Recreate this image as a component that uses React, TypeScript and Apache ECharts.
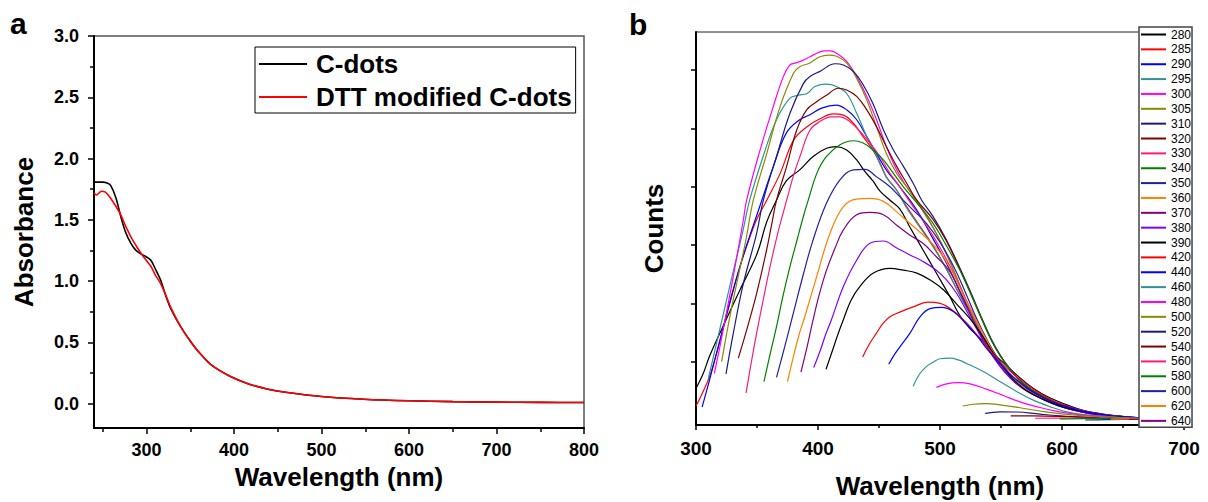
import React, { useEffect, useRef } from "react";
import * as echarts from "echarts";

const FONT = 'Arial, "Liberation Sans", Helvetica, sans-serif';

// ---- Panel a (UV-vis absorbance) ----
const uvXTicks = [300, 400, 500, 600, 700, 800];
const uvXMinorTicks = [250, 350, 450, 550, 650, 750];
const uvYTicks = [0, 0.5, 1, 1.5, 2, 2.5, 3];
const uvYMinorTicks = [0.25, 0.75, 1.25, 1.75, 2.25, 2.75];
const uvNames = ["C-dots", "DTT modified C-dots"];

const cDots = [
  [240, 1.807], [250, 1.807], [255, 1.8], [259, 1.78], [265, 1.68], [270.6, 1.527], [276, 1.4],
  [282, 1.31], [288, 1.25], [293.5, 1.222], [299, 1.2], [305, 1.17], [310, 1.1], [316, 1.01],
  [322, 0.88], [328, 0.77], [339, 0.628], [352, 0.49], [361, 0.41], [374, 0.315], [396, 0.22],
  [417.5, 0.158], [439, 0.117], [461, 0.09], [500, 0.057], [548, 0.035], [600, 0.022],
  [650, 0.015], [700, 0.011], [750, 0.009], [800, 0.008],
];
const dttCDots = [
  [240, 1.717], [243, 1.703], [248.5, 1.733], [253, 1.725], [259, 1.676], [265, 1.61], [270.6, 1.54],
  [276, 1.45], [282, 1.363], [288, 1.29], [293.5, 1.228], [299, 1.175], [305, 1.12], [310, 1.05],
  [316, 0.98], [322, 0.885], [328, 0.78], [339, 0.628], [352, 0.49], [361, 0.41], [374, 0.315],
  [396, 0.22], [417.5, 0.158], [439, 0.117], [461, 0.09], [500, 0.057], [548, 0.035], [600, 0.022],
  [650, 0.015], [700, 0.011], [750, 0.009], [800, 0.008],
];

// ---- Panel b (PL emission at different excitation wavelengths) ----
const plXTicks = [300, 400, 500, 600, 700];
const plYTicks = [1, 2, 3, 4, 5, 6];
const excitations = [
  "280", "285", "290", "295", "300", "305", "310", "320", "330", "340", "350", "360", "370", "380",
  "390", "420", "440", "460", "480", "500", "520", "540", "560", "580", "600", "620", "640",
];

const pl280 = [[300,0.54],[306,0.8],[311,1.09],[322,1.6],[336,2.23],[350,2.85],[358,3.4],[366,3.77],[374,4.1],[385,4.29],[396,4.52],[407,4.66],[415,4.69],[423.5,4.63],[431.7,4.46],[438.5,4.26],[445,4.1],[451,3.92],[459,3.77],[467,3.62],[475,3.32],[486,2.92],[497,2.52],[508,2.12],[516,1.8],[524,1.58],[532,1.42],[542,1.18],[552,0.98],[563,0.77],[576,0.55],[590,0.38],[604,0.26],[618,0.16],[631,0.11],[645,0.07],[658,0.045],[680,0.02],[700,0.01]];
const pl285 = [[300,0.24],[305,0.45],[311,0.74],[317,1.15],[322,1.55],[329,2.1],[336,2.63],[343,3.07],[350,3.45],[358,3.77],[369,4.23],[380,4.8],[391,5.03],[402,5.17],[412.6,5.25],[420.8,5.23],[429,5.09],[437,4.86],[445,4.63],[451,4.4],[456,4.17],[464.5,3.94],[472,3.68],[481,3.4],[494,3.0],[505,2.6],[516,2.15],[527,1.72],[537,1.33],[546,1.03],[555,0.8],[563,0.64],[576,0.46],[590,0.31],[604,0.2],[618,0.13],[631,0.085],[645,0.055],[658,0.038],[680,0.017],[700,0.008]];
const pl290 = [[305,0.22],[310,0.6],[315,1.0],[320,1.4],[330,2.2],[340,2.9],[348,3.4],[354,3.77],[363.4,4.35],[374,4.92],[385,5.15],[393,5.23],[403,5.35],[415,5.4],[423.5,5.32],[431.7,5.15],[440,4.86],[448,4.57],[456,4.29],[467,4.0],[481,3.6],[494,3.12],[505,2.7],[516,2.22],[527,1.77],[537,1.36],[546,1.05],[555,0.82],[563,0.66],[576,0.47],[590,0.32],[604,0.21],[618,0.14],[631,0.09],[645,0.058],[658,0.04],[680,0.018],[700,0.008]];
const pl295 = [[310,0.7],[315,1.15],[320,1.6],[330,2.5],[338,3.2],[344,3.77],[355,4.52],[366,5.15],[377,5.52],[384,5.57],[391,5.6],[397.5,5.72],[407,5.76],[415,5.72],[423.5,5.6],[431.7,5.26],[440,4.86],[448,4.52],[456,4.17],[464.5,3.94],[472,3.66],[481,3.38],[494,2.98],[505,2.6],[516,2.15],[527,1.72],[537,1.33],[546,1.03],[555,0.8],[563,0.64],[576,0.46],[590,0.31],[604,0.2],[618,0.13],[631,0.085],[645,0.055],[658,0.038],[680,0.017],[700,0.008]];
const pl300 = [[315,0.8],[320,1.3],[330,2.4],[338.8,3.43],[341.5,3.77],[352.5,4.63],[363.4,5.38],[371.6,5.89],[377,6.09],[381,6.12],[386.6,6.16],[393.4,6.23],[400,6.3],[405.7,6.33],[410,6.33],[415.3,6.29],[423.5,6.15],[431.7,5.89],[440,5.55],[448,5.15],[456,4.69],[464.5,4.29],[472.7,4.0],[484,3.65],[497,3.2],[508,2.72],[518,2.22],[527,1.78],[536,1.38],[545,1.07],[553,0.84],[562,0.65],[573,0.49],[588,0.33],[602,0.22],[616,0.145],[630,0.095],[645,0.062],[658,0.043],[680,0.02],[700,0.01]];
const pl305 = [[321,1.0],[328,1.8],[335,2.5],[341,3.1],[347,3.77],[358,4.57],[369,5.38],[380,5.95],[385,6.06],[393,6.12],[401.6,6.23],[408.5,6.26],[415.3,6.24],[423.5,6.12],[431.7,5.86],[440,5.49],[448,5.03],[456,4.57],[464.5,4.23],[472.7,4.0],[484,3.66],[497,3.2],[508,2.72],[518,2.22],[527,1.78],[536,1.38],[545,1.07],[553,0.84],[562,0.65],[573,0.49],[588,0.33],[602,0.22],[616,0.145],[630,0.095],[645,0.062],[658,0.043],[680,0.02],[700,0.01]];
const pl310 = [[324.6,0.79],[330.6,1.49],[338.8,2.34],[349.7,3.2],[355.2,3.77],[366,4.52],[377,5.26],[388,5.77],[393.4,5.89],[401.6,5.98],[414,6.11],[420.8,6.09],[429,5.98],[437,5.75],[445,5.43],[453.6,4.98],[461.8,4.63],[470,4.35],[478,4.06],[485,3.77],[494,3.5],[505,3.1],[516,2.62],[525,2.2],[534,1.76],[542,1.39],[550,1.09],[558,0.86],[566,0.67],[576,0.51],[590,0.35],[604,0.24],[618,0.155],[631,0.1],[645,0.066],[658,0.046],[680,0.02],[700,0.01]];
const pl320 = [[334.7,1.06],[341.5,1.54],[349.7,2.17],[357.9,2.92],[362,3.35],[366,3.77],[374.3,4.35],[382.5,4.97],[390.7,5.32],[398.9,5.46],[407,5.57],[416.7,5.69],[423.5,5.66],[431.7,5.55],[440,5.32],[448,5.03],[456,4.69],[464.5,4.35],[472.7,4.06],[481,3.77],[494,3.45],[505,3.08],[516,2.6],[525,2.18],[534,1.74],[542,1.37],[550,1.08],[558,0.85],[566,0.66],[576,0.5],[590,0.34],[604,0.23],[618,0.15],[631,0.1],[645,0.065],[658,0.045],[680,0.02],[700,0.01]];
const pl330 = [[341,0.46],[345,0.95],[349.7,1.49],[355,2.05],[360.7,2.63],[367,3.2],[374.3,3.77],[380,4.2],[385.2,4.52],[393.4,4.97],[401.6,5.12],[411,5.2],[418,5.2],[426,5.12],[434.4,4.95],[442.6,4.75],[450.8,4.52],[459,4.23],[467,4.0],[476,3.72],[490,3.3],[501,2.92],[512,2.48],[521,2.08],[530,1.7],[539,1.34],[547,1.05],[555,0.83],[564,0.64],[574,0.49],[588,0.33],[602,0.22],[616,0.145],[630,0.095],[645,0.062],[658,0.043],[680,0.02],[700,0.01]];
const pl340 = [[355.7,0.66],[361,1.15],[366,1.6],[371,2.1],[377,2.63],[383,3.1],[388,3.49],[392,3.77],[399,4.23],[407,4.52],[418,4.72],[429,4.79],[437,4.75],[445,4.63],[453.6,4.46],[461.8,4.23],[470,4.0],[480,3.75],[494,3.38],[505,3.0],[516,2.58],[525,2.17],[534,1.74],[542,1.38],[550,1.08],[558,0.85],[566,0.66],[576,0.5],[590,0.34],[604,0.23],[618,0.15],[631,0.1],[645,0.065],[658,0.045],[680,0.02],[700,0.01]];
const pl350 = [[366,0.73],[372,1.2],[380,1.85],[388,2.5],[396,3.09],[407,3.72],[418,4.12],[429,4.29],[438.5,4.3],[448,4.17],[459,4.0],[467,3.83],[478,3.6],[489,3.37],[500,3.05],[512,2.6],[521,2.18],[530,1.74],[539,1.36],[547,1.07],[555,0.84],[564,0.65],[574,0.49],[588,0.33],[602,0.22],[616,0.145],[630,0.095],[645,0.062],[658,0.043],[680,0.02],[700,0.01]];
const pl360 = [[375,0.66],[380,1.1],[385,1.5],[389.3,1.78],[398.9,2.46],[409.8,3.2],[420.8,3.66],[431.7,3.79],[442.6,3.8],[453.6,3.75],[464.5,3.57],[475.4,3.37],[489,3.12],[500,2.88],[511,2.5],[521,2.06],[530,1.7],[539,1.34],[547,1.05],[555,0.83],[564,0.64],[574,0.48],[588,0.33],[602,0.22],[616,0.145],[630,0.095],[645,0.062],[658,0.043],[680,0.02],[700,0.01]];
const pl370 = [[386,0.82],[391,1.25],[396,1.72],[401,2.15],[407,2.57],[414,2.95],[420.8,3.26],[431.7,3.52],[442.6,3.56],[453.6,3.52],[464.5,3.34],[475.4,3.17],[486,3.03],[497,2.8],[508,2.55],[518,2.12],[527,1.72],[536,1.35],[545,1.05],[553,0.83],[562,0.64],[573,0.48],[588,0.32],[602,0.21],[616,0.14],[630,0.09],[645,0.06],[658,0.042],[680,0.02],[700,0.01]];
const pl380 = [[396.5,0.9],[402,1.2],[406,1.45],[411,1.72],[420.8,2.29],[431.7,2.74],[442.6,3.03],[453.6,3.07],[464.5,2.95],[475.4,2.83],[486,2.72],[497,2.57],[505.5,2.4],[513.7,2.17],[521,1.9],[529,1.6],[537,1.3],[545,1.04],[553,0.82],[562,0.63],[573,0.47],[588,0.32],[602,0.21],[616,0.14],[630,0.09],[645,0.06],[658,0.042],[680,0.02],[700,0.01]];
const pl390 = [[406.6,0.87],[412,1.2],[416,1.45],[420.8,1.72],[427,2.05],[434.4,2.29],[445.4,2.52],[459,2.6],[470,2.57],[481,2.52],[492,2.4],[503,2.23],[514,1.98],[524,1.75],[533,1.5],[542,1.2],[551,0.93],[560,0.7],[571,0.5],[586,0.34],[600,0.23],[615,0.15],[630,0.095],[645,0.06],[658,0.042],[680,0.02],[700,0.01]];
const pl420 = [[436.6,1.08],[442,1.3],[448,1.49],[453,1.65],[459,1.77],[467,1.85],[478,1.94],[490,2.02],[500,2.0],[511,1.87],[522,1.66],[535.5,1.33],[549,1.0],[563,0.74],[576.5,0.53],[590,0.36],[604,0.24],[618,0.155],[631,0.1],[645,0.065],[658,0.043],[680,0.02],[700,0.01]];
const pl440 = [[458,0.955],[462,1.1],[467,1.25],[475.4,1.49],[483.6,1.77],[491.8,1.91],[501.4,1.93],[510.9,1.86],[520,1.68],[530,1.45],[540,1.18],[550,0.95],[560,0.74],[572,0.54],[586,0.37],[600,0.25],[615,0.16],[630,0.1],[645,0.065],[658,0.043],[680,0.02],[700,0.01]];
const pl460 = [[478,0.58],[483,0.78],[489,0.92],[495,1.0],[500,1.05],[508,1.06],[515,1.03],[521.8,0.97],[535.5,0.83],[549,0.66],[562.8,0.49],[576.5,0.34],[590,0.23],[604,0.14],[620,0.087],[645,0.047],[664,0.03],[680,0.02],[700,0.012]];
const pl480 = [[497,0.56],[505.5,0.62],[515,0.64],[524.6,0.62],[538,0.53],[552,0.42],[565.6,0.31],[579,0.23],[593,0.16],[612,0.097],[636.6,0.057],[658.5,0.028],[680,0.015],[700,0.008]];
const pl500 = [[518.6,0.24],[527,0.27],[538,0.28],[549,0.26],[565.6,0.21],[582,0.154],[604,0.097],[631,0.057],[658.5,0.028],[680,0.015],[700,0.008]];
const pl520 = [[537,0.114],[549,0.14],[563,0.137],[582,0.1],[609,0.057],[636.6,0.028],[658.5,0.017],[680,0.01],[700,0.006]];
const pl540 = [[558,0.07],[576.5,0.07],[604,0.057],[631,0.034],[658.5,0.017],[680,0.01],[700,0.006]];
const pl560 = [[578,0.03],[604,0.034],[631,0.028],[658.5,0.017],[680,0.01],[700,0.006]];
const pl580 = [[598,0.02],[620,0.025],[640,0.022],[660,0.015],[680,0.01],[700,0.006]];
const pl600 = [[619,0.0],[635,0.005],[650,0.008],[665,0.008],[680,0.006],[700,0.004]];
const pl620 = [[640,0.015],[660,0.018],[680,0.012],[700,0.008]];
const pl640 = [[655,0.01],[670,0.012],[700,0.008]];

const plData = [
  pl280, pl285, pl290, pl295, pl300, pl305, pl310, pl320, pl330, pl340, pl350, pl360, pl370, pl380,
  pl390, pl420, pl440, pl460, pl480, pl500, pl520, pl540, pl560, pl580, pl600, pl620, pl640,
];

const originPalette = [
  "#000000", "#FF0000", "#0000FF", "#2E9494", "#FF00FF", "#8A8A00", "#1A1A80",
  "#800000", "#FF1A80", "#008000", "#1F1FA8", "#FF8000", "#800080", "#8000FF",
];

export default function App() {
  const ref = useRef<HTMLDivElement>(null);

  useEffect(() => {
    if (!ref.current) return;
    const chart = echarts.init(ref.current, undefined, { renderer: "svg" });

    const axisBlack = { onZero: false, lineStyle: { color: "#000", width: 2 } };
    const boldLabel = (size: number) => ({
      color: "#000",
      fontSize: size,
      fontWeight: "bold" as const,
      fontFamily: FONT,
    });

    const option: any = {
      animation: false,
      textStyle: { fontFamily: FONT },
      grid: [
        {
          left: 94, top: 36, width: 490, height: 392,
          show: true, borderColor: "#555", borderWidth: 1.5,
          containLabel: false, outerBoundsMode: "none",
        },
        {
          left: 696, top: 32, width: 488, height: 393,
          show: true, borderColor: "#222", borderWidth: 1,
          containLabel: false, outerBoundsMode: "none",
        },
      ],
      xAxis: [
        {
          type: "value", gridIndex: 0, min: 240, max: 800, position: "bottom",
          axisLine: axisBlack,
          axisTick: { customValues: uvXTicks, length: 6, lineStyle: { color: "#000", width: 1.5 } },
          axisLabel: { ...boldLabel(18), margin: 13, customValues: uvXTicks },
          splitLine: { show: false },
          name: "Wavelength (nm)", nameLocation: "middle", nameGap: 29,
          nameTextStyle: boldLabel(26),
        },
        {
          type: "value", gridIndex: 0, min: 240, max: 800, position: "bottom",
          axisLine: { show: false, onZero: false },
          axisTick: { customValues: uvXMinorTicks, length: 4, lineStyle: { color: "#000", width: 1.5 } },
          axisLabel: { show: false },
          splitLine: { show: false },
        },
        {
          type: "value", gridIndex: 1, min: 300, max: 700, interval: 100, position: "bottom",
          axisLine: axisBlack,
          axisTick: { customValues: plXTicks, length: 5, lineStyle: { color: "#000", width: 1.5 } },
          minorTick: { show: true, splitNumber: 2, length: 3, lineStyle: { color: "#000", width: 1.5 } },
          axisLabel: { ...boldLabel(19), margin: 14, customValues: plXTicks },
          splitLine: { show: false },
          name: "Wavelength (nm)", nameLocation: "middle", nameGap: 48,
          nameTextStyle: boldLabel(26),
        },
      ],
      yAxis: [
        {
          type: "value", gridIndex: 0, min: -0.2, max: 3, position: "left",
          axisLine: axisBlack,
          axisTick: { customValues: uvYTicks, length: 6, lineStyle: { color: "#000", width: 1.5 } },
          axisLabel: {
            ...boldLabel(18), margin: 15, customValues: uvYTicks,
            formatter: (v: number) => v.toFixed(1),
          },
          splitLine: { show: false },
          name: "Absorbance", nameLocation: "middle", nameGap: 57, nameRotate: 90,
          nameTextStyle: boldLabel(26),
        },
        {
          type: "value", gridIndex: 0, min: -0.2, max: 3, position: "left",
          axisLine: { show: false, onZero: false },
          axisTick: { customValues: uvYMinorTicks, length: 4, lineStyle: { color: "#000", width: 1.5 } },
          axisLabel: { show: false },
          splitLine: { show: false },
        },
        {
          type: "value", gridIndex: 1, min: -0.086, max: 6.655, position: "left",
          axisLine: axisBlack,
          axisTick: { customValues: plYTicks, length: 5, lineStyle: { color: "#000", width: 1.5 } },
          axisLabel: { show: false },
          splitLine: { show: false },
          name: "Counts", nameLocation: "middle", nameGap: 29, nameRotate: 90,
          nameTextStyle: boldLabel(26),
        },
      ],
      legend: [
        {
          data: uvNames,
          orient: "vertical", left: 255, top: 47,
          icon: "rect", itemWidth: 48, itemHeight: 2, itemGap: 5,
          padding: [3, 4, 2, 4],
          backgroundColor: "#fff", borderColor: "#000", borderWidth: 1,
          textStyle: { ...boldLabel(26), lineHeight: 28, padding: [0, 0, 0, 4] },
        },
        {
          data: excitations,
          orient: "vertical", left: 1139, top: 27,
          icon: "rect", itemWidth: 25, itemHeight: 2, itemGap: 1.86,
          padding: [1, 1, 0, 2],
          backgroundColor: "#fff", borderColor: "#444", borderWidth: 1.5,
          textStyle: { color: "#000", fontSize: 12, lineHeight: 13, fontFamily: FONT },
        },
      ],
      graphic: [
        {
          type: "text", x: 10, y: 23,
          style: { text: "a", font: `bold 30px ${FONT}`, fill: "#000", textVerticalAlign: "middle", verticalAlign: "middle" },
        },
        {
          type: "text", x: 629, y: 24,
          style: { text: "b", font: `bold 30px ${FONT}`, fill: "#000", textVerticalAlign: "middle", verticalAlign: "middle" },
        },
      ],
      series: [
        {
          name: uvNames[0], type: "line", xAxisIndex: 0, yAxisIndex: 0,
          data: cDots, showSymbol: false, smooth: 0.3,
          color: "#000", lineStyle: { width: 1.6 },
        },
        {
          name: uvNames[1], type: "line", xAxisIndex: 0, yAxisIndex: 0,
          data: dttCDots, showSymbol: false, smooth: 0.3,
          color: "#FF0000", lineStyle: { width: 1.6 },
        },
        ...plData.map((d, i) => ({
          name: excitations[i], type: "line", xAxisIndex: 2, yAxisIndex: 2,
          data: d, showSymbol: false, smooth: 0.4,
          color: originPalette[i % originPalette.length], lineStyle: { width: 1.2 },
        })),
      ],
    };

    chart.setOption(option);
    return () => chart.dispose();
  }, []);

  return (
    <div
      ref={ref}
      style={{ position: "fixed", left: 0, top: 0, width: 1208, height: 502, background: "#fff" }}
    />
  );
}
